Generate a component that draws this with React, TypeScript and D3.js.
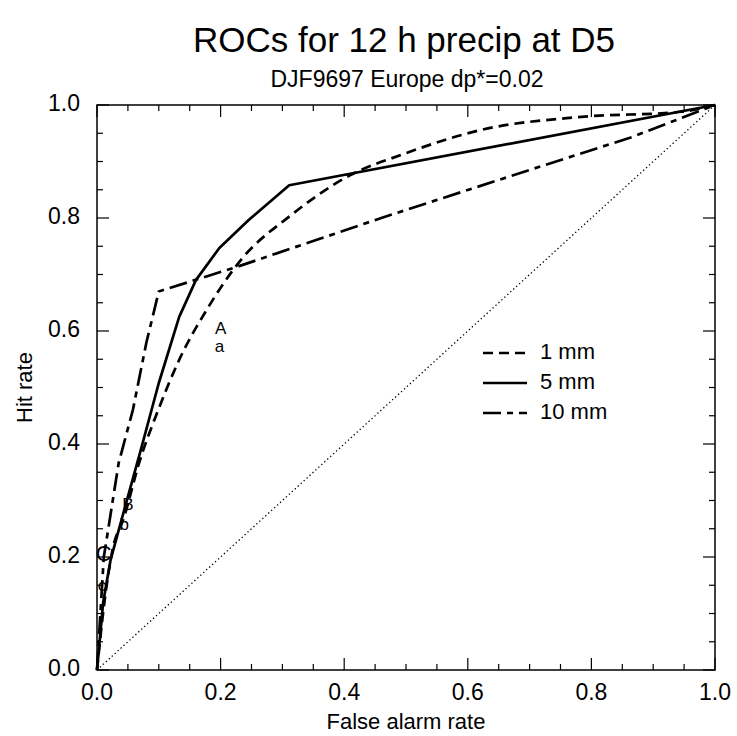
import React from "react";
import * as d3 from "d3";

const series1mm: [number, number][] = [
  [0, 0], [0.012, 0.12], [0.025, 0.212], [0.044, 0.271], [0.068, 0.366], [0.099, 0.46],
  [0.133, 0.549], [0.18, 0.642], [0.233, 0.726], [0.314, 0.805], [0.41, 0.876],
  [0.493, 0.912], [0.622, 0.956], [0.784, 0.979], [0.946, 0.988], [1, 1],
];
const series5mm: [number, number][] = [
  [0, 0], [0.01, 0.12], [0.022, 0.195], [0.047, 0.295], [0.071, 0.39], [0.1, 0.508],
  [0.133, 0.625], [0.16, 0.69], [0.198, 0.747], [0.245, 0.796], [0.311, 0.858], [1, 1],
];
const series10mm: [number, number][] = [
  [0, 0], [0.011, 0.2], [0.018, 0.248], [0.035, 0.366], [0.058, 0.46], [0.08, 0.58],
  [0.1, 0.67], [0.225, 0.713], [0.46, 0.8], [0.7, 0.885], [0.865, 0.943], [1, 1],
];
const markerLabels = ["A", "a", "B", "b", "C", "c"];
const markerX = [0.2, 0.198, 0.05, 0.044, 0.011, 0.008];
const markerY = [0.603, 0.57, 0.292, 0.255, 0.204, 0.147];
const legendLabels = ["1 mm", "5 mm", "10 mm"];
const majorTicks = [0, 0.2, 0.4, 0.6, 0.8, 1.0];
const minorTicks = d3.range(0, 21).map((i) => i * 0.05);

const W = 737, H = 736;
const L = 97, R = 715, T = 105, B = 670;
const FONT = "'Liberation Sans', Arial, Helvetica, sans-serif";
const dashes = ["10,6", "", "18,6,6,6"];

export default function App() {
  const x = d3.scaleLinear().domain([0, 1]).range([L, R]);
  const y = d3.scaleLinear().domain([0, 1]).range([B, T]);
  const lineSmooth = d3.line<[number, number]>().x((d) => x(d[0])).y((d) => y(d[1])).curve(d3.curveMonotoneX);
  const lineLin = d3.line<[number, number]>().x((d) => x(d[0])).y((d) => y(d[1]));
  const paths = [lineSmooth(series1mm), lineLin(series5mm), lineLin(series10mm)];

  return (
    <svg width={W} height={H} style={{ position: "absolute", left: 0, top: 0, background: "#fff" }} fontFamily={FONT}>
      <rect x={0} y={0} width={W} height={H} fill="#fff" />
      <text x={404} y={52} textAnchor="middle" fontSize={35}>ROCs for 12 h precip at D5</text>
      <text x={407} y={87} textAnchor="middle" fontSize={23}>DJF9697 Europe dp*=0.02</text>

      {/* diagonal */}
      <line x1={x(0)} y1={y(0)} x2={x(1)} y2={y(1)} stroke="#000" strokeWidth={1.3} strokeDasharray="1.3,2.7" />

      {paths.map((p, i) => (
        <path key={i} d={p || ""} fill="none" stroke="#000" strokeWidth={2.7} strokeDasharray={dashes[i]} strokeLinejoin="round" />
      ))}

      {markerLabels.map((m, i) => (
        <text key={m + i} x={x(markerX[i])} y={y(markerY[i])} textAnchor="middle" dominantBaseline="middle"
          fontSize={m === "C" ? 22 : 17} fill="#000">{m}</text>
      ))}

      {/* frame */}
      <rect x={L} y={T} width={R - L} height={B - T} fill="none" stroke="#000" strokeWidth={1.5} />
      {minorTicks.map((t, i) => {
        const len = i % 4 === 0 ? 12 : 6;
        return (
          <g key={i} stroke="#000" strokeWidth={1.2}>
            <line x1={x(t)} x2={x(t)} y1={B} y2={B - len} />
            <line x1={x(t)} x2={x(t)} y1={T} y2={T + len} />
            <line y1={y(t)} y2={y(t)} x1={L} x2={L + len} />
            <line y1={y(t)} y2={y(t)} x1={R} x2={R - len} />
          </g>
        );
      })}
      {majorTicks.map((t) => (
        <g key={t} fontSize={23}>
          <text x={x(t)} y={700} textAnchor="middle">{t.toFixed(1)}</text>
          <text x={80} y={y(t)} textAnchor="end" dominantBaseline="middle">{t.toFixed(1)}</text>
        </g>
      ))}
      <text x={(L + R) / 2} y={729} textAnchor="middle" fontSize={22}>False alarm rate</text>
      <text transform={`translate(32,${(T + B) / 2}) rotate(-90)`} textAnchor="middle" fontSize={22}>Hit rate</text>

      {legendLabels.map((lab, i) => (
        <g key={lab}>
          <line x1={483} x2={527} y1={353 + i * 30} y2={353 + i * 30} stroke="#000" strokeWidth={2.7} strokeDasharray={dashes[i]} />
          <text x={540} y={353 + i * 30} dominantBaseline="middle" fontSize={22}>{lab}</text>
        </g>
      ))}
    </svg>
  );
}
